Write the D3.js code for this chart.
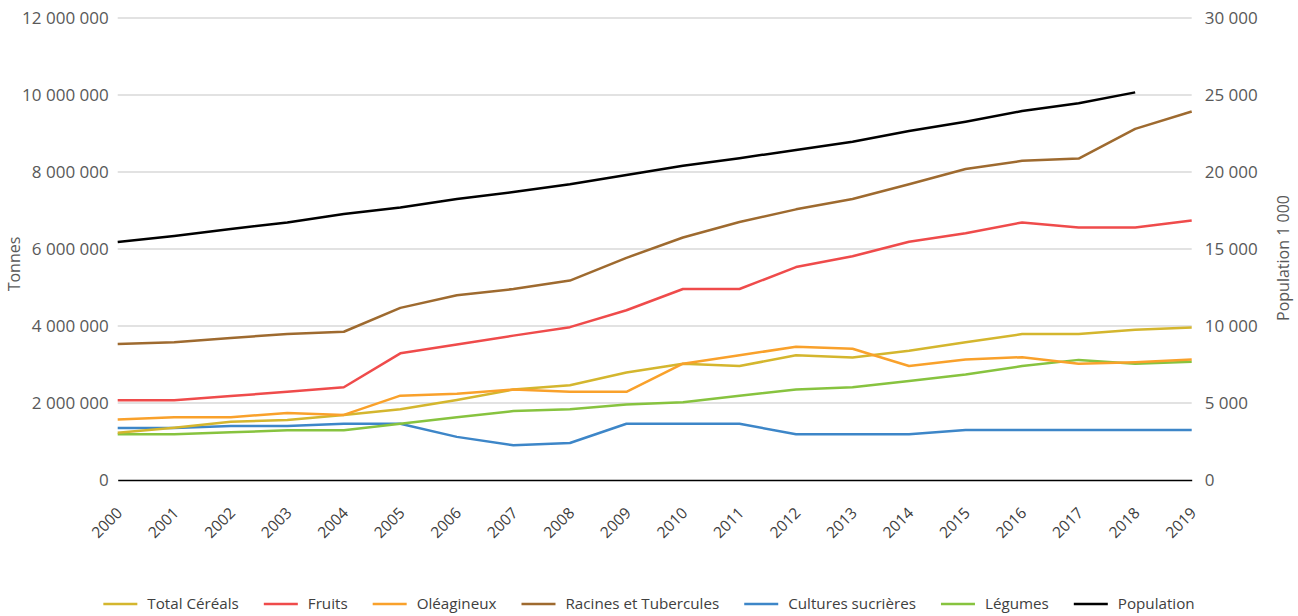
<!DOCTYPE html>
<html>
<head>
<meta charset="utf-8">
<script src="https://cdn.jsdelivr.net/npm/d3@7"></script>
<style>
  html, body { margin: 0; padding: 0; background: #fff; }
  svg { display: block; font-family: "Open Sans", sans-serif; }
</style>
</head>
<body>
<svg id="chart" width="1298" height="616"></svg>
<script>
const years = ["2000","2001","2002","2003","2004","2005","2006","2007","2008","2009","2010","2011","2012","2013","2014","2015","2016","2017","2018","2019"];

const totalCereales = [1230000,1360000,1510000,1560000,1690000,1840000,2080000,2350000,2460000,2790000,3020000,2960000,3240000,3180000,3360000,3580000,3790000,3790000,3900000,3960000];
const fruits = [2070000,2070000,2180000,2290000,2410000,3290000,3520000,3750000,3970000,4410000,4960000,4960000,5530000,5810000,6190000,6410000,6690000,6560000,6560000,6740000];
const oleagineux = [1570000,1630000,1630000,1740000,1690000,2190000,2240000,2350000,2290000,2290000,3020000,3240000,3460000,3410000,2960000,3130000,3190000,3020000,3060000,3130000];
const racines = [3530000,3580000,3690000,3790000,3850000,4470000,4800000,4960000,5180000,5770000,6300000,6700000,7030000,7300000,7680000,8080000,8290000,8350000,9120000,9570000];
const culturesSucrieres = [1350000,1350000,1400000,1400000,1460000,1460000,1120000,900000,960000,1460000,1460000,1460000,1190000,1190000,1190000,1300000,1300000,1300000,1300000,1300000];
const legumes = [1190000,1190000,1240000,1290000,1290000,1460000,1630000,1790000,1840000,1960000,2020000,2190000,2350000,2410000,2570000,2740000,2960000,3120000,3020000,3070000];
const population = [15450,15840,16300,16720,17270,17700,18250,18700,19200,19800,20400,20900,21430,21970,22660,23270,23960,24460,25170,null];

const leftTicks = [0,2000000,4000000,6000000,8000000,10000000,12000000];
const rightTicks = [0,5000,10000,15000,20000,25000,30000];

const seriesNames = ["Total Céréals","Fruits","Oléagineux","Racines et Tubercules","Cultures sucrières","Légumes","Population"];
const seriesColors = ["#d4b62e","#ef4b4b","#f9a12b","#9e6a2f","#3d86c8","#87c33f","#000000"];

const svg = d3.select("#chart");
const X0 = 117.7, X1 = 1191.7, Y0 = 480, Y1 = 18;

const x = d3.scalePoint().domain(years).range([X0, X1]);
const yL = d3.scaleLinear().domain([0, 12000000]).range([Y0, Y1]);
const yR = d3.scaleLinear().domain([0, 30000]).range([Y0, Y1]);

const loc = d3.formatLocale({decimal: ",", thousands: " ", grouping: [3], currency: ["", ""]});
const fmt = loc.format(",d");

// grid
svg.append("g").selectAll("line").data(leftTicks.filter(d => d > 0)).join("line")
  .attr("x1", X0).attr("x2", X1)
  .attr("y1", d => yL(d)).attr("y2", d => yL(d))
  .attr("stroke", "#d9d9d9").attr("stroke-width", 1.5);

// left axis
const gL = svg.append("g").attr("transform", `translate(${X0},0)`)
  .call(d3.axisLeft(yL).tickValues(leftTicks).tickFormat(fmt).tickSize(0).tickPadding(9));
gL.select(".domain").remove();
gL.selectAll("text").attr("fill", "#595959").style("font-size", "17px").style("font-family", "Open Sans").style("white-space", "pre");

// right axis
const gR = svg.append("g").attr("transform", `translate(${X1},0)`)
  .call(d3.axisRight(yR).tickValues(rightTicks).tickFormat(fmt).tickSize(0).tickPadding(13));
gR.select(".domain").remove();
gR.selectAll("text").attr("fill", "#595959").style("font-size", "17px").style("font-family", "Open Sans").style("white-space", "pre");

// bottom axis
const gB = svg.append("g").attr("transform", `translate(0,${Y0})`)
  .call(d3.axisBottom(x).tickSize(0).tickPadding(0));
gB.select(".domain").attr("stroke", "#000").attr("stroke-width", 1.5);
gB.selectAll("text")
  .attr("fill", "#404040").style("font-size", "15.5px").style("font-family", "Open Sans")
  .attr("text-anchor", "end").attr("dy", null).attr("y", 0)
  .attr("transform", "translate(5,34) rotate(-45)");

// axis titles
svg.append("text").attr("transform", "translate(20,264) rotate(-90)")
  .attr("text-anchor", "middle").attr("fill", "#595959")
  .style("font-size", "16px").text("Tonnes");
svg.append("text").attr("transform", "translate(1289,258) rotate(-90)")
  .attr("text-anchor", "middle").attr("fill", "#595959")
  .style("font-size", "16px").text("Population 1 000");

// lines
const leftSeries = [totalCereales, fruits, oleagineux, racines, culturesSucrieres, legumes];
const lineL = d3.line().x((d, i) => x(years[i])).y(d => yL(d));
const lineR = d3.line().defined(d => d !== null).x((d, i) => x(years[i])).y(d => yR(d));

const drawOrder = [4, 5, 0, 2, 1, 3];
drawOrder.forEach(k => {
  svg.append("path").datum(leftSeries[k])
    .attr("fill", "none").attr("stroke", seriesColors[k])
    .attr("stroke-width", 2.5).attr("stroke-linejoin", "round")
    .attr("d", lineL);
});
svg.append("path").datum(population)
  .attr("fill", "none").attr("stroke", seriesColors[6])
  .attr("stroke-width", 2.5).attr("stroke-linejoin", "round")
  .attr("d", lineR);

// legend
const legY = 604;
const leg = svg.append("g");
const items = leg.selectAll("g").data(seriesNames).join("g");
items.append("line").attr("x1", 0).attr("x2", 34).attr("y1", 0).attr("y2", 0)
  .attr("stroke", (d, i) => seriesColors[i]).attr("stroke-width", 2.5);
items.append("text").attr("x", 44).attr("y", 0).attr("dy", "0.35em")
  .attr("fill", "#404040").style("font-size", "15.2px").text(d => d);
let cx = 0;
const offsets = [];
items.each(function () {
  const w = this.querySelector("text").getComputedTextLength();
  offsets.push(cx);
  cx += 44 + w + 25;
});
const total = cx - 25;
const start = 1298 / 2 - total / 2;
items.attr("transform", (d, i) => `translate(${start + offsets[i]},${legY})`);
</script>
</body>
</html>
